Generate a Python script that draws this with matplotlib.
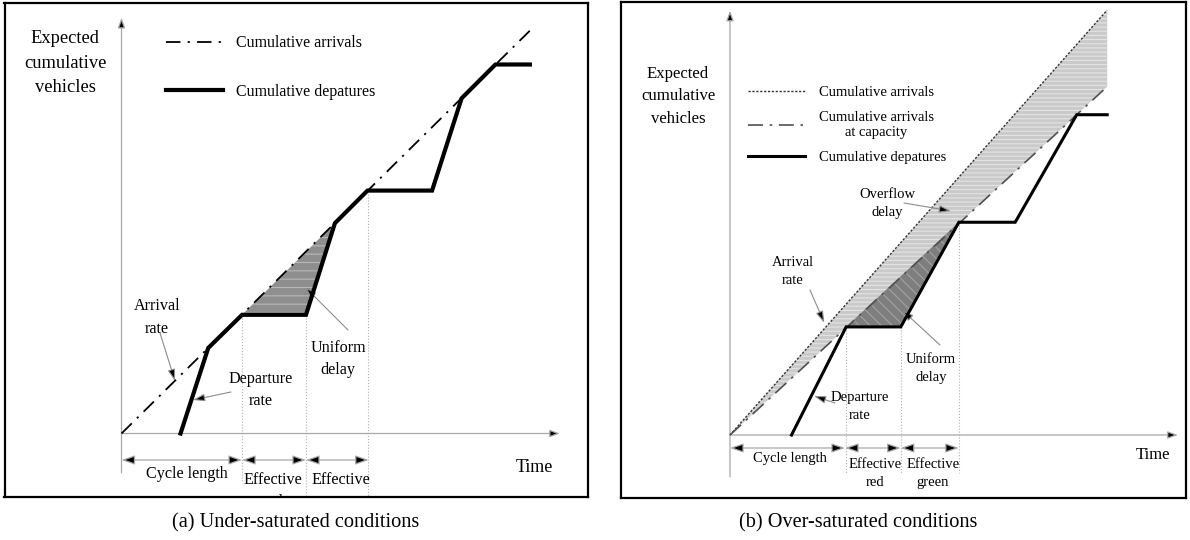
import matplotlib
matplotlib.use('Agg')
import matplotlib.pyplot as plt
from matplotlib.patches import Polygon

plt.rcParams['font.family'] = ['Liberation Serif', 'DejaVu Serif']
plt.rcParams['hatch.linewidth'] = 0.8

# ---- (a) under-saturated: time and vehicles in phase units ----
a_arr_t = [0.0, 6.64]
a_arr_n = [0.0, 6.55]
a_dep_t = [0.96, 1.41, 1.96, 3.0, 3.47, 4.0, 5.05, 5.53, 6.08, 6.64]
a_dep_n = [0.0, 1.39, 1.93, 1.93, 3.42, 3.95, 3.95, 5.45, 6.0, 6.0]
a_phase_t = [0.0, 1.96, 3.0, 4.02]

# ---- (b) over-saturated ----
b_arr_t = [0.0, 6.56]
b_arr_n = [0.0, 7.39]
b_cap_t = [0.0, 6.56]
b_cap_n = [0.0, 6.06]
b_dep_t = [1.07, 2.02, 2.97, 3.98, 4.96, 6.03, 6.56]
b_dep_n = [0.0, 1.88, 1.88, 3.70, 3.70, 5.57, 5.57]
b_phase_t = [0.0, 2.0, 2.97, 3.98]

phase_labels = ['Cycle length', 'Effective\nred', 'Effective\ngreen']

W, H = 1190, 540
fig = plt.figure(figsize=(W / 100, H / 100), dpi=100)

GRAY = '#a8a8a8'


def make_panel(x0, y0, x1, y1, ox, oy, s):
    # panel box in pixels, origin of the time axis in pixels, pixels per unit
    ax = fig.add_axes([x0 / W, 1 - y1 / H, (x1 - x0) / W, (y1 - y0) / H])
    ax.set_xlim((x0 - ox) / s, (x1 - ox) / s)
    ax.set_ylim((oy - y1) / s, (oy - y0) / s)
    ax.set_xticks([])
    ax.set_yticks([])
    for sp in ax.spines.values():
        sp.set_linewidth(1.6)
        sp.set_color('black')
    return ax


def axis_arrow(ax, start, end):
    ax.annotate('', xy=end, xytext=start,
                arrowprops=dict(arrowstyle='-|>,head_length=0.6,head_width=0.22',
                                fc='black', ec=GRAY, lw=0.9, shrinkA=0, shrinkB=0))


def pointer(ax, tail, tip):
    ax.annotate('', xy=tip, xytext=tail,
                arrowprops=dict(arrowstyle='-|>,head_length=0.7,head_width=0.22',
                                fc='black', ec='#8c8c8c', lw=0.8, shrinkA=0, shrinkB=0))


def phase_arrows(ax, marks, y):
    for a, b in zip(marks[:-1], marks[1:]):
        ax.annotate('', xy=(b, y), xytext=(a, y),
                    arrowprops=dict(arrowstyle='<|-|>,head_length=0.8,head_width=0.28',
                                    fc='black', ec=GRAY, lw=0.9, shrinkA=0, shrinkB=0))


# ================= (a) =================
ax = make_panel(4.5, 2.5, 588, 497, 121.5, 433.5, 61.5)
ls_arr_a = (0, (8, 4, 1.2, 4))

# uniform delay between arrivals and departures during the second cycle
ax.add_patch(Polygon([(a_dep_t[2], a_dep_n[2]), (a_dep_t[3], a_dep_n[3]), (a_dep_t[4], a_dep_n[4])],
                     closed=True, facecolor='#8e8e8e', edgecolor='#b8b8b8', lw=0,
                     hatch='--', zorder=1))

axis_arrow(ax, (0, -0.64), (0, 6.76))
axis_arrow(ax, (0, 0), (7.13, 0))

for i, bottom in [(2, -0.8), (3, -1.0), (5, -1.05)]:
    ax.plot([a_dep_t[i], a_dep_t[i]], [a_dep_n[i], bottom], color='#b0b0b0', lw=0.8, ls=':', zorder=1)

l_arr, = ax.plot(a_arr_t, a_arr_n, color='black', lw=1.3, ls=ls_arr_a, zorder=3)
l_dep, = ax.plot(a_dep_t, a_dep_n, color='black', lw=3.0, solid_joinstyle='miter', zorder=4)

ax.legend([l_arr, l_dep], ['Cumulative arrivals', 'Cumulative depatures'],
          loc='upper left', bbox_to_anchor=(0.2768, 0.934), frameon=False,
          fontsize=11.4, handlelength=3.6, handletextpad=0.8, labelspacing=2.05,
          borderpad=0, borderaxespad=0)

ax.text(-0.919, 6.024, 'Expected\ncumulative\nvehicles', ha='center', va='center',
        fontsize=13.3, linespacing=1.55)

ax.text(0.577, 1.886, 'Arrival\nrate', ha='center', va='center', fontsize=11.6, linespacing=1.55)
pointer(ax, (0.626, 1.634), (0.87, 0.854))
ax.text(2.268, 0.707, 'Departure\nrate', ha='center', va='center', fontsize=11.6, linespacing=1.55)
pointer(ax, (1.78, 0.675), (1.163, 0.545))
ax.text(3.52, 1.211, 'Uniform\ndelay', ha='center', va='center', fontsize=11.6, linespacing=1.55)
pointer(ax, (3.683, 1.683), (2.984, 2.382))

ax.text(6.707, -0.545, 'Time', ha='center', va='center', fontsize=13)
phase_arrows(ax, a_phase_t, -0.431)
ax.text(1.065, -0.659, phase_labels[0], ha='center', va='center', fontsize=11.6, clip_on=True)
ax.text(2.468, -0.621, phase_labels[1], ha='center', va='top', fontsize=11.6, linespacing=1.5, clip_on=True)
ax.text(3.569, -0.621, phase_labels[2], ha='center', va='top', fontsize=11.6, linespacing=1.5, clip_on=True)

# ================= (b) =================
bx = make_panel(620.7, 2, 1186, 498, 730, 435, 57.5)
ls_arr_b = (0, (1.6, 1.2))
ls_cap_b = (0, (9, 4, 1.5, 4))

# overflow delay: between arrivals and arrivals at capacity
bx.add_patch(Polygon([(b_arr_t[0], b_arr_n[0]), (b_arr_t[1], b_arr_n[1]), (b_cap_t[1], b_cap_n[1])],
                     closed=True, facecolor='#cacaca', edgecolor='#e4e4e4', lw=0,
                     hatch='----', zorder=1))
# uniform delay in the second cycle
bx.add_patch(Polygon([(b_dep_t[1], b_dep_n[1]), (b_dep_t[2], b_dep_n[2]), (b_dep_t[3], b_dep_n[3])],
                     closed=True, facecolor='#7e7e7e', edgecolor='#a2a2a2', lw=0,
                     hatch='\\\\\\', zorder=1.5))

axis_arrow(bx, (0, -0.73), (0, 7.38))
axis_arrow(bx, (0, 0), (7.79, 0))

for i in (1, 2, 3):
    bx.plot([b_dep_t[i], b_dep_t[i]], [b_dep_n[i], -0.66], color='#b0b0b0', lw=0.8, ls=':', zorder=1)

m_arr, = bx.plot(b_arr_t, b_arr_n, color='#333333', lw=1.0, ls=ls_arr_b, zorder=3)
m_cap, = bx.plot(b_cap_t, b_cap_n, color='#505050', lw=1.2, ls=ls_cap_b, zorder=3)
m_dep, = bx.plot(b_dep_t, b_dep_n, color='black', lw=2.2, solid_joinstyle='miter', zorder=4)

leg_b = bx.legend([m_arr, m_cap, m_dep],
                  ['Cumulative arrivals', 'Cumulative arrivals\nat capacity', 'Cumulative depatures'],
                  loc='upper left', bbox_to_anchor=(0.2252, 0.8306), frameon=False,
                  fontsize=10.5, handlelength=3.9, handletextpad=0.95, labelspacing=0.8,
                  borderpad=0, borderaxespad=0)
for t in leg_b.get_texts():
    t.set_multialignment('center')
    t.set_linespacing(1.25)

bx.text(-0.904, 5.887, 'Expected\ncumulative\nvehicles', ha='center', va='center',
        fontsize=12.1, linespacing=1.55)

bx.text(2.73, 4.026, 'Overflow\ndelay', ha='center', va='center', fontsize=10.5, linespacing=1.5)
pointer(bx, (3.026, 4.035), (3.843, 3.896))
bx.text(1.096, 2.843, 'Arrival\nrate', ha='center', va='center', fontsize=10.5, linespacing=1.5)
pointer(bx, (1.391, 2.522), (1.64, 1.95))
bx.text(2.261, 0.487, 'Departure\nrate', ha='center', va='center', fontsize=10.5, linespacing=1.5)
pointer(bx, (1.826, 0.557), (1.461, 0.678))
bx.text(3.496, 1.148, 'Uniform\ndelay', ha='center', va='center', fontsize=10.5, linespacing=1.5)
pointer(bx, (3.652, 1.565), (2.991, 2.174))

bx.text(7.357, -0.348, 'Time', ha='center', va='center', fontsize=12)
phase_arrows(bx, b_phase_t, -0.226)
bx.text(1.043, -0.417, phase_labels[0], ha='center', va='center', fontsize=10.5)
bx.text(2.522, -0.403, phase_labels[1], ha='center', va='top', fontsize=10.5, linespacing=1.5)
bx.text(3.53, -0.403, phase_labels[2], ha='center', va='top', fontsize=10.5, linespacing=1.5)

# captions under the two panels
fig.text(296 / W, 1 - 523 / H, '(a) Under-saturated conditions', ha='center', va='center', fontsize=14.6)
fig.text(858 / W, 1 - 523 / H, '(b) Over-saturated conditions', ha='center', va='center', fontsize=14.6)

fig.savefig('out.png', dpi=100)
